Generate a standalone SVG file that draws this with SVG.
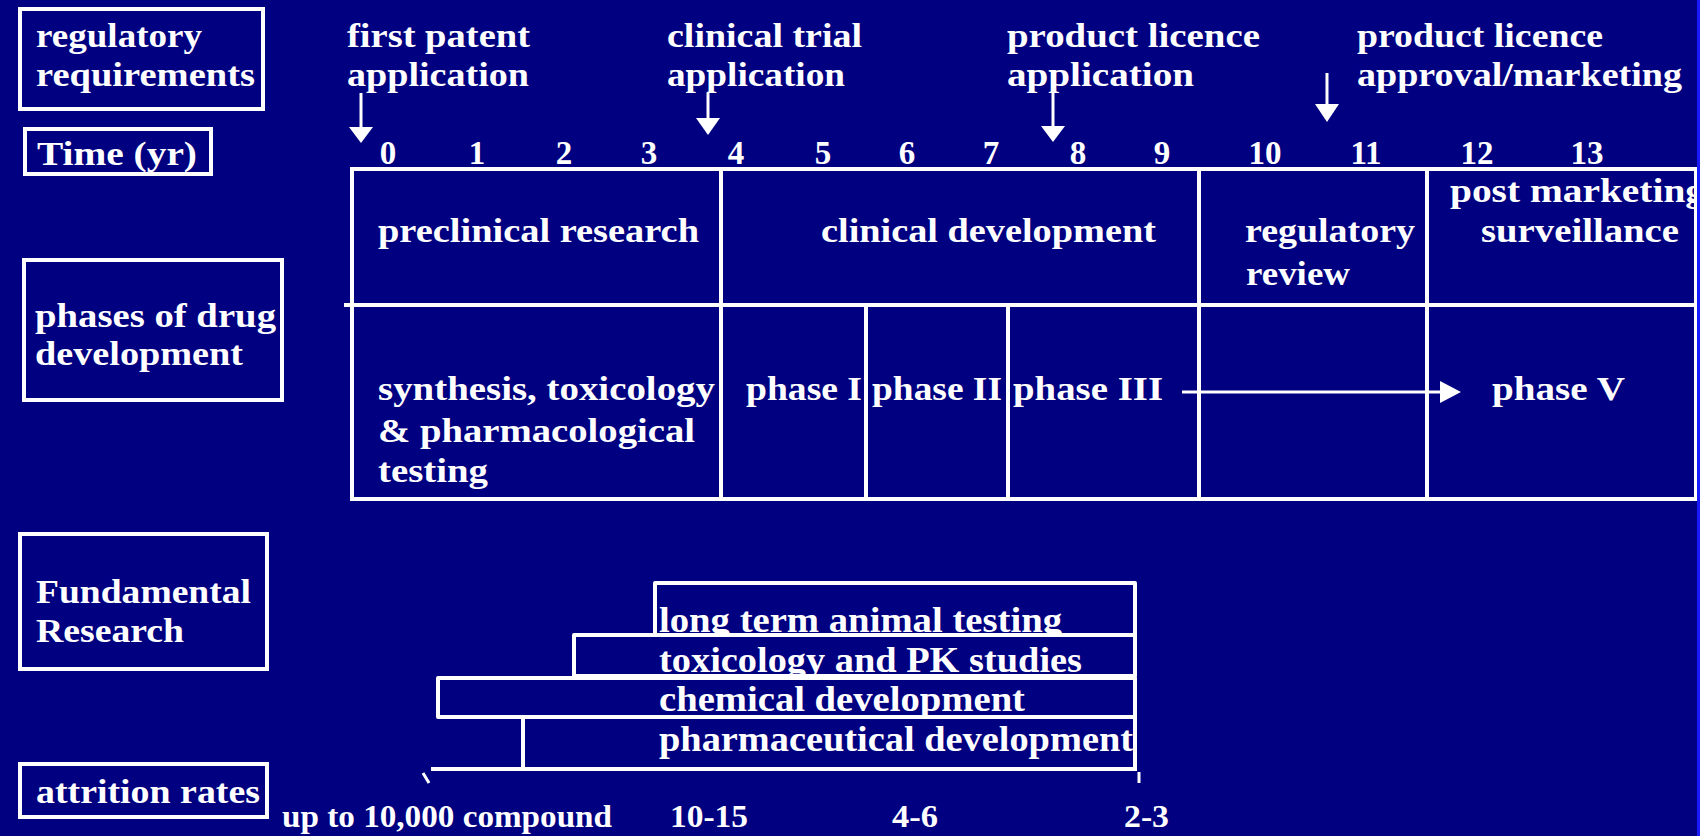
<svg xmlns="http://www.w3.org/2000/svg" width="1700" height="836" viewBox="0 0 1700 836">
<style>
  text { font-family: "Liberation Serif", "Times New Roman", serif; font-weight: bold; fill: #ffffff; }
  .t30 { font-size: 34px; }
  .t31 { font-size: 34px; }
  .t33 { font-size: 36px; }
  .t29 { font-size: 32px; }
  .num { font-size: 33px; text-anchor: middle; }
  .box { fill: none; stroke: #ffffff; stroke-width: 4; }
  .ln { stroke: #ffffff; stroke-width: 4; fill: none; }
  .bar { fill: #000080; stroke: #ffffff; stroke-width: 4; stroke-linejoin: round; }
  .shaft { stroke: #ffffff; stroke-width: 3; fill: none; }
  .head { fill: #ffffff; }
</style>
<rect x="0" y="0" width="1700" height="836" fill="#000080"/>

<g id="label-regulatory">
  <rect class="box" x="20" y="9" width="243" height="100"/>
  <text class="t30" x="36" y="47" textLength="166" lengthAdjust="spacingAndGlyphs">regulatory</text>
  <text class="t30" x="36" y="86" textLength="219" lengthAdjust="spacingAndGlyphs">requirements</text>
</g>
<g id="label-time">
  <rect class="box" x="25" y="129" width="186" height="45"/>
  <text class="t30" x="37" y="165" textLength="160" lengthAdjust="spacingAndGlyphs">Time (yr)</text>
</g>
<g id="label-phases">
  <rect class="box" x="24" y="260" width="258" height="140"/>
  <text class="t30" x="35" y="327" textLength="241" lengthAdjust="spacingAndGlyphs">phases of drug</text>
  <text class="t30" x="35" y="365" textLength="208" lengthAdjust="spacingAndGlyphs">development</text>
</g>
<g id="label-fundamental">
  <rect class="box" x="20" y="534" width="247" height="135"/>
  <text class="t30" x="36" y="603" textLength="215" lengthAdjust="spacingAndGlyphs">Fundamental</text>
  <text class="t30" x="36" y="642" textLength="148" lengthAdjust="spacingAndGlyphs">Research</text>
</g>
<g id="label-attrition">
  <rect class="box" x="20" y="764" width="247" height="53"/>
  <text class="t30" x="36" y="803" textLength="224" lengthAdjust="spacingAndGlyphs">attrition rates</text>
</g>

<g id="milestone-patent">
  <text class="t30" x="347" y="47" textLength="183" lengthAdjust="spacingAndGlyphs">first patent</text>
  <text class="t30" x="347" y="86" textLength="182" lengthAdjust="spacingAndGlyphs">application</text>
</g>
<g id="milestone-clinical-trial">
  <text class="t30" x="667" y="47" textLength="195" lengthAdjust="spacingAndGlyphs">clinical trial</text>
  <text class="t30" x="667" y="86" textLength="178" lengthAdjust="spacingAndGlyphs">application</text>
</g>
<g id="milestone-licence-application">
  <text class="t30" x="1007" y="47" textLength="253" lengthAdjust="spacingAndGlyphs">product licence</text>
  <text class="t30" x="1007" y="86" textLength="187" lengthAdjust="spacingAndGlyphs">application</text>
</g>
<g id="milestone-licence-approval">
  <text class="t30" x="1357" y="47" textLength="246" lengthAdjust="spacingAndGlyphs">product licence</text>
  <text class="t30" x="1357" y="86" textLength="325" lengthAdjust="spacingAndGlyphs">approval/marketing</text>
</g>

<g id="timescale">
  <text class="num" x="388" y="164">0</text>
  <text class="num" x="477" y="164">1</text>
  <text class="num" x="564" y="164">2</text>
  <text class="num" x="649" y="164">3</text>
  <text class="num" x="736" y="164">4</text>
  <text class="num" x="823" y="164">5</text>
  <text class="num" x="907" y="164">6</text>
  <text class="num" x="991" y="164">7</text>
  <text class="num" x="1078" y="164">8</text>
  <text class="num" x="1162" y="164">9</text>
  <text class="num" x="1265" y="164">10</text>
  <text class="num" x="1366" y="164">11</text>
  <text class="num" x="1477" y="164">12</text>
  <text class="num" x="1587" y="164">13</text>
</g>

<g id="phase-table">
  <line class="ln" x1="350" y1="169" x2="1700" y2="169"/>
  <line class="ln" x1="352" y1="167" x2="352" y2="501"/>
  <line class="ln" x1="344" y1="305" x2="1700" y2="305"/>
  <line class="ln" x1="350" y1="499" x2="1700" y2="499"/>
  <line class="ln" x1="1696" y1="169" x2="1696" y2="499"/>
  <line class="ln" x1="721" y1="169" x2="721" y2="499"/>
  <line class="ln" x1="1199" y1="169" x2="1199" y2="499"/>
  <line class="ln" x1="1427" y1="169" x2="1427" y2="499"/>
  <line class="ln" x1="866" y1="305" x2="866" y2="499"/>
  <line class="ln" x1="1008" y1="305" x2="1008" y2="499"/>
</g>
<g id="cell-preclinical">
  <text class="t31" x="378" y="242" textLength="321" lengthAdjust="spacingAndGlyphs">preclinical research</text>
</g>
<g id="cell-clinical">
  <text class="t31" x="821" y="242" textLength="335" lengthAdjust="spacingAndGlyphs">clinical development</text>
</g>
<g id="cell-regulatory-review">
  <text class="t31" x="1245" y="242" textLength="170" lengthAdjust="spacingAndGlyphs">regulatory</text>
  <text class="t31" x="1246" y="285" textLength="104" lengthAdjust="spacingAndGlyphs">review</text>
</g>
<g id="cell-post-marketing">
  <text class="t31" x="1450" y="202" textLength="255" lengthAdjust="spacingAndGlyphs">post marketing</text>
  <text class="t31" x="1481" y="242" textLength="198" lengthAdjust="spacingAndGlyphs">surveillance</text>
</g>
<g id="cell-synthesis">
  <text class="t31" x="378" y="400" textLength="337" lengthAdjust="spacingAndGlyphs">synthesis, toxicology</text>
  <text class="t31" x="378" y="442" textLength="317" lengthAdjust="spacingAndGlyphs">&amp; pharmacological</text>
  <text class="t31" x="378" y="482" textLength="110" lengthAdjust="spacingAndGlyphs">testing</text>
</g>
<g id="cell-phase1">
  <text class="t31" x="746" y="400" textLength="116" lengthAdjust="spacingAndGlyphs">phase I</text>
</g>
<g id="cell-phase2">
  <text class="t31" x="872" y="400" textLength="130" lengthAdjust="spacingAndGlyphs">phase II</text>
</g>
<g id="cell-phase3">
  <text class="t31" x="1013" y="400" textLength="150" lengthAdjust="spacingAndGlyphs">phase III</text>
</g>
<g id="cell-phase5">
  <text class="t31" x="1492" y="400" textLength="133" lengthAdjust="spacingAndGlyphs">phase V</text>
</g>

<g id="bar-long-term">
  <rect class="bar" x="655" y="583" width="480" height="52"/>
  <text class="t33" x="659" y="632" textLength="403" lengthAdjust="spacingAndGlyphs">long term animal testing</text>
</g>
<g id="bar-toxicology">
  <rect class="bar" x="574" y="635" width="561" height="41"/>
  <text class="t33" x="659" y="672" textLength="423" lengthAdjust="spacingAndGlyphs">toxicology and PK studies</text>
</g>
<g id="bar-chemical">
  <rect class="bar" x="438" y="678" width="697" height="39"/>
  <text class="t33" x="659" y="711" textLength="366" lengthAdjust="spacingAndGlyphs">chemical development</text>
</g>
<g id="bar-pharmaceutical">
  <rect class="bar" x="523" y="717" width="612" height="52"/>
  <text class="t33" x="659" y="751" textLength="474" lengthAdjust="spacingAndGlyphs">pharmaceutical development</text>
</g>
<g id="attrition-axis">
  <line class="ln" x1="431" y1="769" x2="1137" y2="769"/>
  <line class="shaft" x1="423" y1="773" x2="429" y2="783"/>
  <line class="shaft" x1="1139" y1="772" x2="1139" y2="783"/>
</g>
<g id="attrition-values">
  <text class="t29" x="282" y="827" textLength="330" lengthAdjust="spacingAndGlyphs">up to 10,000 compound</text>
  <text class="t29" x="670" y="827" textLength="78" lengthAdjust="spacingAndGlyphs">10-15</text>
  <text class="t29" x="892" y="827" textLength="46" lengthAdjust="spacingAndGlyphs">4-6</text>
  <text class="t29" x="1124" y="827" textLength="45" lengthAdjust="spacingAndGlyphs">2-3</text>
</g>

<g id="connectors">
  <line class="shaft" x1="361" y1="93" x2="361" y2="130"/>
  <polygon class="head" points="349,127 373,127 361,143"/>
  <line class="shaft" x1="708" y1="93" x2="708" y2="121"/>
  <polygon class="head" points="696,118 720,118 708,135"/>
  <line class="shaft" x1="1053" y1="93" x2="1053" y2="129"/>
  <polygon class="head" points="1041,126 1065,126 1053,142"/>
  <line class="shaft" x1="1327" y1="73" x2="1327" y2="106"/>
  <polygon class="head" points="1315,104 1339,104 1327,122"/>
  <line class="shaft" x1="1182" y1="392" x2="1442" y2="392" stroke-width="4"/>
  <polygon class="head" points="1440,381 1461,392 1440,403"/>
</g>

<rect x="1697" y="0" width="3" height="836" fill="#1a1aff"/>
</svg>
